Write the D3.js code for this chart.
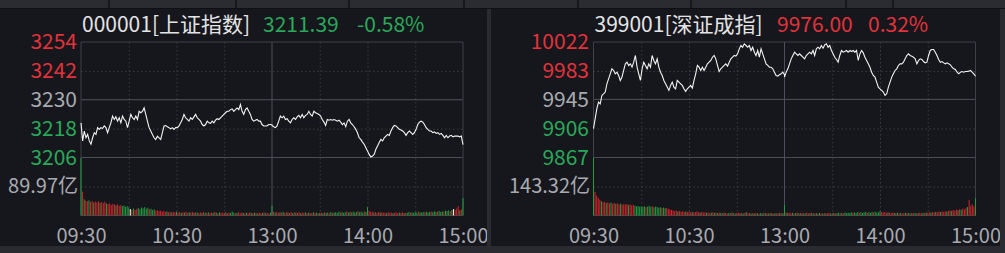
<html>
<head>
<meta charset="UTF-8">
<script src="https://d3js.org/d3.v7.min.js"></script>
<style>
  body { margin: 0; background: #16171c; overflow: hidden; }
  text { font-family: "Noto Sans CJK SC", "Noto Sans", sans-serif; }
  .dots line { stroke: #393c45; stroke-dasharray: 1.5,2.5; }
  .dots .domain, .lbl .domain { display: none; }
</style>
</head>
<body>
<svg id="chart" width="1005" height="253"></svg>
<script>
// shared axis data
const timeTicks = [0, 60, 120, 180, 240];
const timeLabels = ['09:30', '10:30', '13:00', '14:00', '15:00'];

// 000001 上证指数
const shTicks = [3254, 3242, 3230, 3218, 3206];
const shVolMid = 89.97;
const shAm = [3220.4, 3212.9, 3217.0, 3214.2, 3215.6, 3212.9, 3211.5, 3214.2, 3216.3, 3215.6,
  3218.4, 3217.7, 3218.4, 3218.1, 3219.1, 3218.4, 3216.3, 3218.4, 3220.4, 3223.2,
  3221.8, 3222.9, 3221.1, 3222.5, 3220.4, 3223.2, 3221.8, 3221.1, 3218.4, 3221.1,
  3223.9, 3222.5, 3221.8, 3223.2, 3221.8, 3225.2, 3224.6, 3225.2, 3226.6, 3223.9,
  3221.1, 3218.4, 3217.0, 3215.6, 3214.2, 3213.5, 3214.9, 3214.2, 3213.5, 3216.3,
  3219.1, 3219.3, 3218.8, 3218.4, 3217.9, 3218.4, 3217.7, 3218.4, 3218.4, 3219.1,
  3220.4, 3221.8, 3223.9, 3222.5, 3221.8, 3221.1, 3222.5, 3221.8, 3222.9, 3223.9,
  3222.5, 3221.8, 3221.1, 3219.7, 3219.1, 3219.7, 3221.1, 3220.4, 3220.2, 3221.1,
  3220.4, 3221.5, 3222.1, 3221.8, 3222.5, 3223.2, 3223.9, 3224.6, 3225.2, 3225.2,
  3225.9, 3226.2, 3225.2, 3225.9, 3226.6, 3225.9, 3228.0, 3225.2, 3223.9, 3225.9,
  3226.6, 3225.2, 3223.9, 3221.8, 3221.1, 3221.5, 3221.8, 3221.1, 3221.1, 3219.7,
  3219.1, 3219.1, 3219.1, 3219.7, 3219.7, 3219.5];
const shPm = [3219.3, 3218.8, 3218.4, 3219.1, 3221.1, 3223.2, 3222.5, 3223.2, 3221.8, 3222.1,
  3221.1, 3220.4, 3221.8, 3222.5, 3221.8, 3222.9, 3223.5, 3222.5, 3223.9, 3222.5,
  3223.5, 3223.9, 3225.2, 3223.9, 3223.2, 3225.2, 3224.6, 3224.3, 3223.9, 3223.2,
  3221.8, 3220.7, 3219.3, 3221.8, 3221.5, 3221.8, 3221.5, 3221.8, 3221.5, 3221.1,
  3221.5, 3220.7, 3219.7, 3220.4, 3218.8, 3221.1, 3221.8, 3220.4, 3219.7, 3218.8,
  3217.7, 3216.3, 3214.2, 3213.5, 3212.4, 3211.5, 3210.1, 3208.7, 3207.3, 3206.2,
  3206.6, 3207.3, 3209.4, 3210.8, 3212.2, 3213.5, 3212.9, 3214.2, 3214.9, 3215.6,
  3215.2, 3217.0, 3218.4, 3219.3, 3219.1, 3218.4, 3217.7, 3217.4, 3217.0, 3216.3,
  3215.2, 3216.3, 3217.0, 3216.3, 3215.6, 3216.3, 3217.7, 3219.7, 3220.7, 3221.1,
  3220.7, 3219.7, 3218.4, 3217.7, 3217.0, 3217.0, 3216.3, 3216.6, 3216.0, 3216.3,
  3215.6, 3216.0, 3215.2, 3214.2, 3215.2, 3214.2, 3214.9, 3215.2, 3214.6, 3214.9,
  3214.9, 3214.9, 3214.6, 3214.9, 3211.39];
const shVol = [178, 74, 50, 46, 44, 47, 42, 45, 40, 43,
  41, 44, 39, 42, 38, 43, 37, 35, 38, 33,
  36, 34, 31, 35, 30, 32, 29, 31, 27, 29,
  25, 20, 18, 22, 17, 20, 23, 19, 25, 22,
  26, 21, 24, 19, 21, 17, 19, 15, 16, 14,
  15, 12, 14, 11, 13, 10, 12, 9, 11, 10,
  12, 9, 11, 8, 10, 9, 12, 8, 10, 9,
  11, 8, 10, 9, 7, 10, 8, 11, 9, 8,
  10, 7, 9, 8, 11, 9, 7, 10, 8, 9,
  8, 10, 7, 9, 8, 12, 9, 7, 8, 10,
  7, 9, 8, 6, 9, 7, 10, 8, 7, 9,
  8, 6, 9, 7, 8, 10, 7, 8, 6, 9,
  30, 12, 9, 11, 8, 10, 9, 11, 8, 10,
  9, 8, 11, 7, 10, 9, 8, 10, 7, 9,
  8, 10, 7, 9, 8, 7, 10, 8, 9, 7,
  8, 9, 7, 10, 8, 9, 7, 11, 8, 9,
  10, 8, 12, 9, 11, 8, 10, 13, 9, 11,
  10, 12, 9, 11, 14, 10, 12, 9, 13, 11,
  26, 14, 11, 12, 9, 10, 8, 11, 9, 10,
  8, 9, 7, 10, 8, 9, 7, 8, 10, 7,
  9, 8, 10, 7, 9, 8, 11, 9, 10, 8,
  11, 9, 12, 10, 9, 11, 10, 12, 9, 11,
  12, 10, 13, 11, 12, 14, 11, 13, 12, 15,
  14, 16, 13, 17, 20, 18, 22, 29, 16, 19,
  54];
// r = up minute, g = down minute, w = flat
const shVolDir = 'grgrrgrrgr' + 'rrgrrrgrrr' + 'rrgrrrgggg' + 'gwrgrrgggg' + 'gggrgggrrr' +
  'rrrrgrrgrr' + 'grrgrgrrgr' + 'rgrgrrgrgr' + 'grrgrgrgrr' + 'rgrrgggrgr' +
  'rrgrgrrgrg' + 'rgrrgrgrrg' + 'grgrrgrgrr' + 'grrgrgrrgr' + 'rgrgrrgrgr' +
  'grgrggrgrg' + 'gggrgggrgg' + 'rgggrgggrg' + 'grrrgrrrgr' + 'rrgrrrgrrr' +
  'grrgrggrgg' + 'ggrgggrggg' + 'rgggrgggrg' + 'ggrgwrrrgr' + 'g';

// 399001 深证成指
const szTicks = [10022, 9983, 9945, 9906, 9867];
const szVolMid = 143.32;
const szAm = [9905.7, 9919.1, 9932.5, 9941.4, 9939.1, 9950.3, 9952.5, 9954.8, 9965.9, 9972.6,
  9979.3, 9986.0, 9983.8, 9979.3, 9981.5, 9977.1, 9970.4, 9974.9, 9983.8, 9992.7,
  9994.9, 9990.5, 9992.7, 9988.2, 9994.9, 10003.9, 9988.2, 9979.3, 9970.4, 9986.0,
  9994.9, 9990.5, 9986.0, 9992.7, 9988.2, 10003.9, 9997.2, 9992.7, 9999.4, 9988.2,
  9981.5, 9977.1, 9970.4, 9965.9, 9961.5, 9957.0, 9963.7, 9968.2, 9961.5, 9959.2,
  9970.4, 9968.2, 9965.9, 9963.7, 9959.2, 9955.7, 9959.2, 9961.5, 9963.7, 9960.1,
  9970.4, 9979.3, 9990.5, 9988.2, 9983.8, 9988.2, 9983.8, 9988.2, 9992.7, 9994.9,
  9997.2, 10001.6, 10003.9, 9999.4, 9990.5, 9982.4, 9986.0, 9988.2, 9990.5, 9992.7,
  9989.6, 9994.9, 9999.4, 10001.6, 10003.9, 10003.0, 10006.1, 10012.8, 10017.3, 10015.0,
  10019.5, 10017.3, 10015.0, 10017.3, 10010.6, 10015.0, 10008.3, 10003.9, 10010.6, 10001.6,
  10012.8, 10006.1, 9999.4, 9992.7, 9990.5, 9988.2, 9988.2, 9986.0, 9981.5, 9977.1,
  9976.2, 9978.0, 9979.3, 9981.5, 9978.0];
const szPm = [9974.9, 9981.5, 9986.0, 9992.7, 9999.4, 10003.9, 10008.3, 10006.1, 10003.9, 10006.1,
  10003.9, 10001.6, 9999.4, 10003.9, 10006.1, 10008.3, 10006.1, 10010.6, 10003.9, 10012.8,
  10015.0, 10012.8, 10017.3, 10013.7, 10018.1, 10019.5, 10015.0, 10017.3, 10010.6, 10006.1,
  10001.6, 9998.5, 9994.9, 10003.9, 10010.6, 10008.3, 10009.2, 10010.6, 10008.3, 10010.6,
  10009.2, 10010.6, 10008.3, 10010.6, 9997.2, 10006.1, 10010.6, 10007.4, 10001.6, 9997.2,
  9992.7, 9988.2, 9981.5, 9977.1, 9974.9, 9968.2, 9961.5, 9959.2, 9957.0, 9954.8,
  9950.3, 9952.5, 9961.5, 9968.2, 9974.9, 9979.3, 9983.8, 9986.0, 9990.5, 9992.7,
  9992.7, 9994.9, 9999.4, 10003.9, 10006.1, 10003.9, 10003.0, 10001.6, 9999.4, 9992.7,
  9997.2, 9999.4, 9998.5, 9995.8, 9994.0, 9994.9, 10003.9, 10010.6, 10011.9, 10011.9,
  10008.3, 10003.9, 9998.5, 9994.9, 9995.8, 9994.0, 9992.7, 9994.0, 9992.7, 9991.4,
  9988.2, 9986.0, 9985.1, 9981.5, 9979.3, 9981.5, 9982.4, 9981.5, 9982.4, 9982.4,
  9982.9, 9983.8, 9981.5, 9979.3, 9976.0];
const szVol = [285, 117, 98, 86, 78, 70, 66, 68, 62, 65,
  60, 64, 58, 62, 57, 60, 55, 59, 53, 56,
  54, 57, 51, 55, 50, 53, 48, 45, 47, 43,
  45, 42, 46, 41, 44, 48, 43, 46, 40, 44,
  42, 38, 41, 37, 39, 36, 38, 33, 30, 27,
  25, 22, 24, 20, 23, 19, 21, 18, 20, 17,
  19, 16, 18, 15, 17, 20, 16, 14, 17, 15,
  16, 13, 15, 12, 14, 16, 13, 15, 12, 14,
  13, 11, 14, 12, 10, 13, 11, 15, 12, 10,
  12, 14, 11, 13, 10, 12, 17, 11, 13, 10,
  12, 10, 13, 11, 9, 12, 10, 14, 11, 12,
  10, 13, 11, 9, 12, 10, 11, 13, 10, 12,
  52, 16, 12, 14, 11, 13, 10, 12, 14, 11,
  13, 10, 12, 11, 14, 10, 12, 13, 11, 10,
  12, 10, 13, 11, 9, 12, 10, 11, 13, 10,
  11, 13, 10, 12, 14, 11, 13, 10, 15, 12,
  14, 12, 16, 13, 15, 12, 17, 14, 16, 13,
  15, 18, 14, 16, 13, 17, 15, 19, 14, 16,
  22, 17, 15, 18, 13, 16, 14, 12, 15, 13,
  12, 14, 11, 13, 10, 12, 14, 11, 13, 10,
  12, 11, 13, 10, 12, 14, 11, 13, 12, 15,
  13, 16, 14, 17, 15, 18, 16, 19, 17, 20,
  18, 21, 19, 23, 25, 22, 27, 24, 29, 26,
  31, 28, 34, 30, 38, 42, 77, 48, 55, 45,
  85];
const szVolDir = 'grrrrgrrgr' + 'rgrrgrrgrr' + 'rrgrrrgggg' + 'gggrgggrgg' + 'gggrggrrrr' +
  'rrrgrrrrgr' + 'rrgrrrrgrr' + 'rgrrgrgrgr' + 'grgrrgrgrg' + 'rrgrgrgrrg' +
  'rgrgrggrgr' + 'grgrgrrgrg' + 'grgrrgrgrg' + 'rgrgrrgrgr' + 'grgrgrgrrg' +
  'rgrggrgrgg' + 'gggrgggrgg' + 'ggrgggrggg' + 'grrrrgrrrg' + 'rgrgrrgrgr' +
  'grgrgrrgrg' + 'rrgrrgrrgr' + 'rrgrrgrrrg' + 'rgrrrgrrrr' + 'g';

const RED = '#e2323b', GREEN = '#2aa85a', GREY = '#a9aab0';
const barColor = {r: '#d8232a', g: '#1f9d40', w: '#f2f2f2'};

const svg = d3.select('#chart');

// window chrome: tab strip on top, status strip below
svg.append('rect').attr('x', 0).attr('y', 0).attr('width', 1005).attr('height', 8).attr('fill', '#2b2c31');
svg.append('rect').attr('x', 0).attr('y', 8).attr('width', 1005).attr('height', 1).attr('fill', '#0f1013');
[108, 235, 348, 463, 577, 690, 845, 892].forEach(sx => {
  svg.append('rect').attr('x', sx).attr('y', 0).attr('width', 2).attr('height', 8).attr('fill', '#17181c');
});
svg.append('rect').attr('x', 0).attr('y', 246).attr('width', 1005).attr('height', 7).attr('fill', '#2a2b30');
svg.append('rect').attr('x', 487).attr('y', 9).attr('width', 4).attr('height', 237).attr('fill', '#2a2b30');
svg.append('rect').attr('x', 1000).attr('y', 9).attr('width', 5).attr('height', 237).attr('fill', '#2a2b30');

function drawPanel(p) {
  const g = svg.append('g');
  const clipId = 'clip' + p.id;
  g.append('clipPath').attr('id', clipId)
    .append('rect').attr('x', p.left).attr('y', 9).attr('width', p.right - p.left).attr('height', 237);
  const area = g.append('g').attr('clip-path', `url(#${clipId})`);

  const x = d3.scaleLinear().domain([0, 240]).range([p.x0, p.x1]);
  const y = d3.scaleLinear().domain([p.ticks[4], p.ticks[0]]).range([157.5, 42]);
  const v = d3.scaleLinear().domain([0, 2 * p.volMid]).range([215.5, 157.5]);
  const w = p.x1 - p.x0;

  // dotted grid
  area.append('g').attr('class', 'dots')
    .attr('transform', `translate(${p.x0},0)`)
    .call(d3.axisLeft(y).tickValues([p.ticks[1], p.ticks[3]]).tickSize(-w).tickFormat(''));
  area.append('g').attr('class', 'dots')
    .attr('transform', `translate(${p.x0},0)`)
    .call(d3.axisLeft(v).tickValues([p.volMid]).tickSize(-w).tickFormat(''));
  area.append('g').attr('class', 'dots')
    .attr('transform', 'translate(0,215.5)')
    .call(d3.axisBottom(x).tickValues([30, 60, 90, 150, 180, 210]).tickSize(-(215.5 - 42)).tickFormat(''));

  // solid frame lines
  const solid = (x1, y1, x2, y2, c) => area.append('line')
    .attr('x1', x1).attr('y1', y1).attr('x2', x2).attr('y2', y2)
    .attr('stroke', c).attr('stroke-width', 1);
  solid(p.x0, y(p.ticks[0]), p.x1, y(p.ticks[0]), '#3d4049');
  solid(p.x0, y(p.ticks[4]), p.x1, y(p.ticks[4]), '#4a4d56');
  solid(p.x0, y(p.ticks[2]), p.x1, y(p.ticks[2]), '#50535c');
  solid(p.x0, v(0), p.x1, v(0), '#3d4049');
  solid(p.x0, 42, p.x0, 215.5, '#3d4049');
  solid(p.x1, 42, p.x1, 215.5, '#3d4049');
  solid(x(120), 42, x(120), 215.5, '#4d505a');

  // volume bars
  area.append('g').selectAll('rect').data(p.vol).join('rect')
    .attr('x', (d, i) => x(i) - 0.5)
    .attr('width', 1)
    .attr('y', d => v(d))
    .attr('height', d => v(0) - v(d))
    .attr('fill', (d, i) => barColor[p.dir[i]]);

  // price line: morning over 0-120, afternoon over 120-240
  const pts = p.am.map((d, i) => ({t: i * 120 / (p.am.length - 1), p: d}))
    .concat(p.pm.map((d, i) => ({t: 120 + i * 120 / (p.pm.length - 1), p: d})));
  area.append('path').datum(pts)
    .attr('fill', 'none').attr('stroke', '#f4f4f4').attr('stroke-width', 1.1)
    .attr('d', d3.line().x(d => x(d.t)).y(d => y(d.p)));

  // price labels
  const yl = area.append('g').attr('class', 'lbl')
    .attr('transform', `translate(${p.labelX},0)`)
    .call(d3.axisLeft(y).tickValues(p.ticks).tickSize(0).tickPadding(0).tickFormat(d3.format('d')));
  yl.selectAll('text')
    .attr('font-size', 21).attr('font-family', '"Noto Sans CJK SC", sans-serif')
    .attr('fill', (d, i) => i < 2 ? RED : (i === 2 ? GREY : GREEN));

  area.append('text')
    .attr('x', p.labelX + 1).attr('y', v(p.volMid)).attr('dy', '0.34em')
    .attr('text-anchor', 'end').attr('font-size', 20).attr('fill', GREY)
    .text(p.volMid.toFixed(2) + '亿');

  // time labels
  const xl = area.append('g').attr('class', 'lbl')
    .attr('transform', 'translate(0,229)')
    .call(d3.axisBottom(x).tickValues(timeTicks).tickSize(0).tickPadding(0)
      .tickFormat((d, i) => timeLabels[i]));
  xl.selectAll('text')
    .attr('font-size', 20).attr('font-family', '"Noto Sans CJK SC", sans-serif')
    .attr('fill', GREY);

  // header
  const last = p.pm[p.pm.length - 1];
  const prev = p.ticks[2];
  const pct = (last / prev - 1) * 100;
  const hc = pct >= 0 ? RED : GREEN;
  g.append('text').attr('x', p.x0 + 1).attr('y', 32).attr('font-size', 21).attr('fill', '#e4e4e6')
    .text(p.code + '[' + p.name + ']');
  g.append('text').attr('x', p.priceX).attr('y', 32).attr('font-size', 21).attr('fill', hc)
    .text(last.toFixed(2));
  g.append('text').attr('x', p.pctX).attr('y', 32).attr('font-size', 21).attr('fill', hc)
    .text(p.pctText);
}

drawPanel({id: 'sh', code: '000001', name: '上证指数', ticks: shTicks, volMid: shVolMid,
  am: shAm, pm: shPm, vol: shVol, dir: shVolDir, pctText: '-0.58%',
  left: 0, right: 487, x0: 81, x1: 463, labelX: 77, priceX: 263, pctX: 357});
drawPanel({id: 'sz', code: '399001', name: '深证成指', ticks: szTicks, volMid: szVolMid,
  am: szAm, pm: szPm, vol: szVol, dir: szVolDir, pctText: '0.32%',
  left: 491, right: 1000, x0: 593.5, x1: 975.5, labelX: 589, priceX: 777, pctX: 868});
</script>
</body>
</html>
